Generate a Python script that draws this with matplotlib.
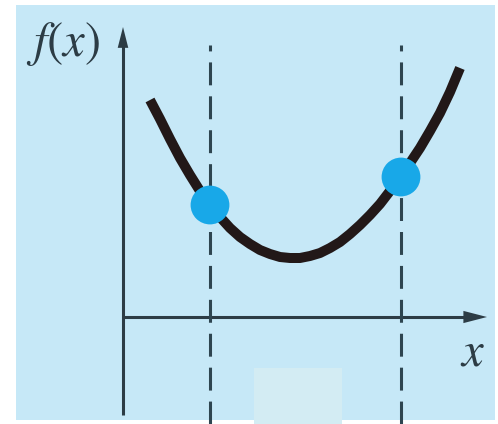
import matplotlib
matplotlib.use("Agg")
import matplotlib.pyplot as plt
from matplotlib.patches import Rectangle, FancyArrowPatch

plt.rcParams['mathtext.fontset'] = 'stix'

# Curve (x to the right of y-axis, y above x-axis, pixel units)
curve_x = [27, 37, 47, 57, 67, 77, 87, 97, 107, 117, 127, 137, 147, 157, 167, 177,
           187, 197, 207, 217, 227, 237, 247, 257, 267, 278, 287, 297, 307, 317, 327, 337]
curve_y = [217, 198, 178, 159, 142, 126, 112, 100, 89, 80, 73, 67, 63, 60, 59, 59,
           61, 64, 69, 75, 83, 92, 102, 113, 126, 140, 154, 169, 186, 204, 225, 249]

# Marked points on the curve
point_x = [87, 278]
point_y = [112, 140]

# Vertical dashed guides at the marked x positions
guide_x = [87, 278]

fig = plt.figure(figsize=(4.98, 4.24), dpi=100)
fig.patch.set_facecolor('white')
ax = fig.add_axes([0, 0, 1, 1])
ax.set_xlim(-123, 375)
ax.set_ylim(-107, 317)
ax.axis('off')

# light blue panel
ax.add_patch(Rectangle((-107, -103), 479, 415, facecolor='#C6E8F7', edgecolor='none', zorder=0))
# faint lighter box near bottom
ax.add_patch(Rectangle((131, -107), 88, 56, facecolor='#D3ECF3', edgecolor='none', zorder=0.5))

axis_col = '#2C3C45'
# y axis
ax.plot([0, 0], [-98, 272], color=axis_col, lw=2.2, zorder=2, solid_capstyle='butt')
ax.add_patch(FancyArrowPatch((0, 262), (0, 290), arrowstyle='-|>,head_length=15,head_width=3.8',
                             color=axis_col, lw=0, mutation_scale=1, shrinkA=0, shrinkB=0, zorder=3))
# x axis
ax.plot([0, 345], [0, 0], color=axis_col, lw=2.2, zorder=2, solid_capstyle='butt')
ax.add_patch(FancyArrowPatch((335, 0), (364, 0), arrowstyle='-|>,head_length=17,head_width=4.4',
                             color=axis_col, lw=0, mutation_scale=1, shrinkA=0, shrinkB=0, zorder=3))

# dashed guides
for gx in guide_x:
    ax.plot([gx, gx], [-107, 272], color='#2E4550', lw=2.2, dashes=(7.5, 3.6), zorder=2)

# curve
ax.plot(curve_x, curve_y, color='#221818', lw=7.2, solid_capstyle='butt', solid_joinstyle='round', zorder=4)

# points
ax.scatter(point_x, point_y, s=780, color='#18A8E8', edgecolors='none', zorder=5)

# labels
ax.text(-60, 273, r'$f(x)$', fontsize=35, color='#2C3C45', ha='center', va='center')
ax.text(350, -34, r'$x$', fontsize=35, color='#2C3C45', ha='center', va='center')

fig.savefig('out.png', dpi=100, facecolor='white')
